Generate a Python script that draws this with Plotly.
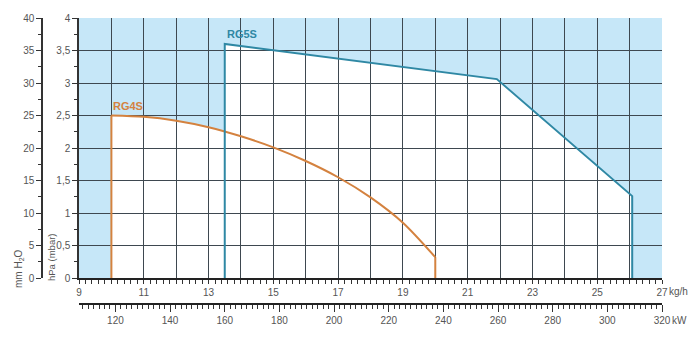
import plotly.graph_objects as go

# ---- data ----
rg4s_x = [10, 11, 12, 13, 14, 15, 16, 17, 18, 19, 20]
rg4s_y = [2.5, 2.48, 2.42, 2.32, 2.18, 2.01, 1.80, 1.55, 1.24, 0.85, 0.32]
rg5s_x = [13.5, 13.5, 21.9, 26.08, 26.08]
rg5s_y = [0, 3.6, 3.06, 1.26, 0]

kg_ticks = list(range(9, 28))
kg_labels = [str(v) if v % 2 == 1 else "" for v in kg_ticks]
hpa_ticks = [0, 0.5, 1, 1.5, 2, 2.5, 3, 3.5, 4]
hpa_labels = ["0", "0,5", "1", "1,5", "2", "2,5", "3", "3,5", "4"]
mm_ticks = [0, 5, 10, 15, 20, 25, 30, 35, 40]
kw_ticks = [120, 140, 160, 180, 200, 220, 240, 260, 280, 300, 320]
KW_PER_KG = 320 / 27

ORANGE = "#d4823f"
TEAL = "#2f88a4"
BLUE = "#c6e7f8"
GRID = "#3e4850"
TXT = "#555555"
FONT = "Liberation Sans, Arial, sans-serif"

# full outline of RG4S (vertical edges + curve)
rg4s_ox = [rg4s_x[0]] + rg4s_x + [rg4s_x[-1]]
rg4s_oy = [0] + rg4s_y + [0]


def path_from(xs, ys):
    return "M " + " L ".join(f"{x},{y}" for x, y in zip(xs, ys)) + " Z"


fig = go.Figure()

# RG4S: curve (spline) + vertical edges (linear)
fig.add_trace(go.Scatter(x=rg4s_x, y=rg4s_y, mode="lines",
                         line=dict(color=ORANGE, width=2, shape="spline", smoothing=0.8),
                         hoverinfo="skip", showlegend=False))
fig.add_trace(go.Scatter(x=[rg4s_x[0], rg4s_x[0], None, rg4s_x[-1], rg4s_x[-1]],
                         y=[0, rg4s_y[0], None, rg4s_y[-1], 0], mode="lines",
                         line=dict(color=ORANGE, width=2),
                         hoverinfo="skip", showlegend=False))
fig.add_trace(go.Scatter(x=rg5s_x, y=rg5s_y, mode="lines",
                         line=dict(color=TEAL, width=2),
                         hoverinfo="skip", showlegend=False))
# invisible traces to activate secondary axes
fig.add_trace(go.Scatter(x=[None], y=[None], xaxis="x2", yaxis="y", showlegend=False))
fig.add_trace(go.Scatter(x=[None], y=[None], xaxis="x", yaxis="y2", showlegend=False))

shapes = [
    dict(type="path", path=path_from(rg5s_x, rg5s_y), xref="x", yref="y",
         fillcolor="white", line=dict(width=0), layer="below"),
    dict(type="path", path=path_from(rg4s_ox, rg4s_oy), xref="x", yref="y",
         fillcolor="white", line=dict(width=0), layer="below"),
]

OFF = 8  # browser body margin
W, H = 700 - OFF, 344 - OFF
ML, MR, MT, MB = 0, 38, 18 - OFF, 40
pw = W - ML - MR
ph = H - MT - MB


def px(p):
    return (p - OFF) / pw


def py(p):
    return (304 - p) / ph


fig.update_layout(
    width=W, height=H,
    margin=dict(l=ML, r=MR, t=MT, b=MB),
    paper_bgcolor="white", plot_bgcolor=BLUE,
    font=dict(family=FONT, size=10, color=TXT),
    shapes=shapes,
    xaxis=dict(domain=[px(79), 1], range=[9, 27], tickvals=kg_ticks, ticktext=kg_labels,
               showgrid=True, gridcolor=GRID, gridwidth=1.3, zeroline=False,
               showline=True, linecolor="#222", linewidth=2,
               ticks="outside", ticklen=4, tickcolor="#333", tickwidth=1,
               minor=dict(dtick=0.2, tick0=9, ticks="outside", ticklen=4, tickcolor="#333", showgrid=False),
               anchor="y", automargin=False),
    yaxis=dict(domain=[py(278), 1], range=[0, 4], tickvals=hpa_ticks, ticktext=hpa_labels,
               showgrid=True, gridcolor=GRID, gridwidth=1.3, zeroline=False,
               showline=True, linecolor="#333", linewidth=1.5,
               ticks="outside", ticklen=5, tickcolor="#333",
               minor=dict(dtick=0.25, ticks="outside", ticklen=3, tickcolor="#333", showgrid=False),
               anchor="x", automargin=False),
    yaxis2=dict(overlaying="y", anchor="free", position=px(42), side="left", range=[0, 40],
                tickvals=mm_ticks, showgrid=False, zeroline=False,
                showline=True, linecolor="#333", linewidth=1.5,
                ticks="outside", ticklen=5, tickcolor="#333",
                minor=dict(dtick=2.5, ticks="outside", ticklen=3, tickcolor="#333", showgrid=False),
                automargin=False),
    xaxis2=dict(overlaying="x", anchor="free", position=0, side="bottom",
                range=[9 * KW_PER_KG, 27 * KW_PER_KG], tickvals=kw_ticks,
                showgrid=False, zeroline=False,
                showline=True, linecolor="#222", linewidth=2,
                ticks="outside", ticklen=7, tickcolor="#333",
                minor=dict(dtick=2, tick0=0, ticks="outside", ticklen=4, tickcolor="#333", showgrid=False),
                automargin=False),
    annotations=[
        dict(text="<b>RG4S</b>", x=10, y=2.5, xref="x", yref="y", xanchor="left", yanchor="bottom",
             yshift=2, showarrow=False, font=dict(color=ORANGE, size=11)),
        dict(text="<b>RG5S</b>", x=13.5, y=3.6, xref="x", yref="y", xanchor="left", yanchor="bottom",
             yshift=2, showarrow=False, font=dict(color=TEAL, size=11)),
        dict(text="kg/h", x=px(667), y=py(291), xref="paper", yref="paper",
             xanchor="left", yanchor="middle", showarrow=False),
        dict(text="kW", x=px(670), y=py(320), xref="paper", yref="paper",
             xanchor="left", yanchor="middle", showarrow=False),
        dict(text="hPa (mbar)", x=px(51), y=py(257), xref="paper", yref="paper",
             textangle=-90, xanchor="center", yanchor="middle", showarrow=False,
             font=dict(size=9.5)),
        dict(text="mm H<sub>2</sub>O", x=px(19), y=py(268), xref="paper", yref="paper",
             textangle=-90, xanchor="center", yanchor="middle", showarrow=False),
    ],
)

fig.write_html("out.html")
